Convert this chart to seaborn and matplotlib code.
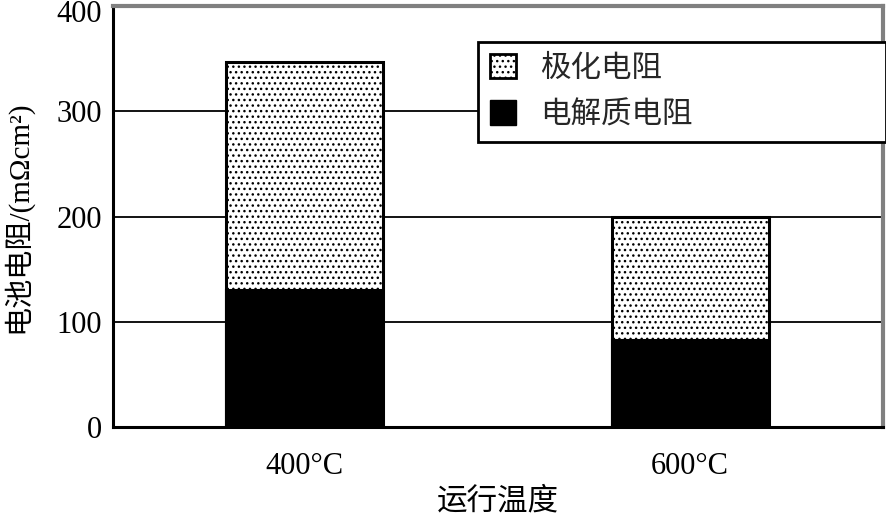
import matplotlib
matplotlib.use("Agg")
import matplotlib.pyplot as plt
import matplotlib.transforms as mtransforms
import seaborn as sns
import pandas as pd
from matplotlib.patches import Patch

categories = ["400°C", "600°C"]
electrolyte_res = [130, 83]
polarization_res = [217, 117]
y_ticks = [0, 100, 200, 300, 400]
legend_labels = ["极化电阻", "电解质电阻"]
x_label = "运行温度"
y_label = "电池电阻/(mΩcm²)"

sns.set_style("white")
plt.rcParams['font.family'] = ['Liberation Serif', 'Noto Sans CJK SC', 'DejaVu Sans']
plt.rcParams['hatch.linewidth'] = 1.0
plt.rcParams['hatch.color'] = 'black'

df = pd.DataFrame({
    "温度": categories,
    "electrolyte": electrolyte_res,
    "total": [e + p for e, p in zip(electrolyte_res, polarization_res)],
})

fig = plt.figure(figsize=(8.87, 5.18), dpi=100)
ax = fig.add_axes([113/887, (518-427)/518, 770/887, 421/518])

sns.barplot(data=df, x="温度", y="total", color="white", edgecolor="black",
            linewidth=2.2, width=0.408, ax=ax, zorder=3, saturation=1)
for p in ax.patches:
    p.set_hatch("...")
sns.barplot(data=df, x="温度", y="electrolyte", color="black", edgecolor="black",
            linewidth=1.5, width=0.408, ax=ax, zorder=4, saturation=1)

ax.set_xlim(-0.497, 1.5)
ax.set_ylim(0, 400)
ax.set_yticks(y_ticks)
for yv in y_ticks[1:-1]:
    ax.axhline(yv, color="black", linewidth=1.3, zorder=1)

ax.tick_params(axis='both', which='major', length=0, labelsize=22, colors='black')
ax.tick_params(axis='y', pad=8)
ax.tick_params(axis='x', pad=18)
ax.set_xticks([0.5], minor=True)
ax.tick_params(axis='x', which='minor', direction='in', length=6, width=1.5, color='black')

fig.canvas.draw()
top_lbl = ax.get_yticklabels()[-1]
top_lbl.set_transform(top_lbl.get_transform() +
                      mtransforms.ScaledTranslation(0, -5/100, fig.dpi_scale_trans))

ax.set_xlabel(x_label, fontsize=22, labelpad=5, color='black')
ax.set_ylabel(y_label, fontsize=21, color='black')
ax.yaxis.set_label_coords(-0.105, 0.5)

for side in ["left", "bottom"]:
    ax.spines[side].set_color("black")
    ax.spines[side].set_linewidth(2.2)
for side in ["top", "right"]:
    ax.spines[side].set_visible(True)
    ax.spines[side].set_color("#808080")
    ax.spines[side].set_linewidth(3)

handles = [Patch(facecolor="white", edgecolor="black", hatch="...", linewidth=2),
           Patch(facecolor="black", edgecolor="black")]
h = 100/421
leg = ax.legend(handles, legend_labels, loc="upper left",
                bbox_to_anchor=(0.474, 0.914 - h, 0.530, h), mode="expand",
                fontsize=22, frameon=True, fancybox=False, edgecolor="black",
                borderaxespad=0, handlelength=0.85, handleheight=0.85,
                handletextpad=0.8, labelspacing=0.55, borderpad=0.38)
leg.get_frame().set_linewidth(2)
leg.get_frame().set_facecolor("white")
leg.get_frame().set_alpha(1)
leg.set_zorder(10)

fig.savefig("out.png", dpi=100)
